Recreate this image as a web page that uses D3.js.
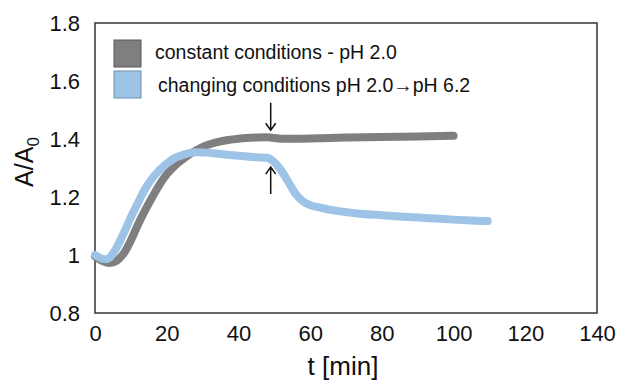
<!DOCTYPE html>
<html>
<head>
<meta charset="utf-8">
<script src="https://cdn.jsdelivr.net/npm/d3@7"></script>
<style>
  body { margin: 0; background: #fff; }
  svg { display: block; font-family: "Liberation Sans", Arial, sans-serif; }
</style>
</head>
<body>
<div id="chart"></div>
<script>
// time [min] and A/A0
const tConstant = [0, 2, 4, 6, 8, 10, 12, 14, 16, 18, 20, 22, 25, 28, 31, 35, 40, 45, 48, 52, 60, 70, 80, 90, 100];
const aConstant = [0.995, 0.98, 0.972, 0.98, 1.005, 1.05, 1.105, 1.155, 1.2, 1.243, 1.278, 1.305, 1.335, 1.36, 1.378, 1.392, 1.401, 1.405, 1.406, 1.401, 1.402, 1.405, 1.407, 1.409, 1.411];

const tChanging = [0, 1, 2, 3, 4, 6, 8, 10, 12, 14, 16, 18, 20, 22, 25, 28, 31, 35, 40, 45, 48, 50, 52, 54, 56, 58, 60, 63, 67, 72, 80, 86, 93, 100, 105, 109.5];
const aChanging = [1.0, 0.993, 0.987, 0.985, 0.99, 1.025, 1.075, 1.13, 1.18, 1.228, 1.265, 1.293, 1.315, 1.333, 1.347, 1.354, 1.353, 1.348, 1.342, 1.337, 1.335, 1.32, 1.29, 1.25, 1.21, 1.185, 1.172, 1.163, 1.153, 1.145, 1.137, 1.132, 1.127, 1.122, 1.119, 1.117];

const seriesNames = ["constant conditions - pH 2.0", "changing conditions pH 2.0\u2192pH 6.2"];
const seriesColors = ["#7f7f7f", "#9dc3e6"];

const xTicks = [0, 20, 40, 60, 80, 100, 120, 140];
const yTicks = [0.8, 1, 1.2, 1.4, 1.6, 1.8];

// arrows marking the pH switch: [t, from, to]
const arrows = [[49, 1.525, 1.43], [49, 1.21, 1.303]];

const W = 620, H = 380;
const margin = { top: 23, right: 23, bottom: 67, left: 95 };
const width = W - margin.left - margin.right;
const height = H - margin.top - margin.bottom;

const svg = d3.select("#chart").append("svg")
  .attr("width", W)
  .attr("height", H);

const g = svg.append("g")
  .attr("transform", `translate(${margin.left},${margin.top})`);

const x = d3.scaleLinear().domain([0, 140]).range([0, width]);
const y = d3.scaleLinear().domain([0.8, 1.8]).range([height, 0]);

// Axes (labels only, no tick marks)
const xAxis = g.append("g")
  .attr("transform", `translate(0,${height})`)
  .call(d3.axisBottom(x).tickValues(xTicks).tickSize(0).tickPadding(12).tickFormat(d3.format("d")));
xAxis.select(".domain").remove();
xAxis.selectAll("text").style("font-size", "22px").attr("fill", "#111");

const yAxis = g.append("g")
  .call(d3.axisLeft(y).tickValues(yTicks).tickSize(0).tickPadding(15).tickFormat(d => String(d)));
yAxis.select(".domain").remove();
yAxis.selectAll("text").style("font-size", "22px").attr("fill", "#111");

// Plot frame
g.append("rect")
  .attr("width", width)
  .attr("height", height)
  .attr("fill", "none")
  .attr("stroke", "#404040")
  .attr("stroke-width", 1.6);

// Curves
const line = d3.line()
  .x(d => x(d[0]))
  .y(d => y(d[1]))
  .curve(d3.curveMonotoneX);

const series = [
  d3.zip(tConstant, aConstant),
  d3.zip(tChanging, aChanging)
];

g.selectAll(".curve")
  .data(series)
  .enter().append("path")
  .attr("class", "curve")
  .attr("d", line)
  .attr("fill", "none")
  .attr("stroke", (d, i) => seriesColors[i])
  .attr("stroke-width", 8)
  .attr("stroke-linecap", "round")
  .attr("stroke-linejoin", "round");

// Arrows
arrows.forEach(([t, from, to]) => {
  const ax = x(t), y0 = y(from), y1 = y(to);
  const dir = y1 > y0 ? 1 : -1;
  g.append("path")
    .attr("d", `M${ax},${y0}L${ax},${y1}M${ax - 5},${y1 - dir * 7}L${ax},${y1}L${ax + 5},${y1 - dir * 7}`)
    .attr("fill", "none")
    .attr("stroke", "#111")
    .attr("stroke-width", 1.5);
});

// Legend
const legend = g.append("g").attr("transform", "translate(19,17)");
const legendBorder = ["#5a5a5a", "#6f8fb0"];
seriesNames.forEach((name, i) => {
  const row = legend.append("g").attr("transform", `translate(0,${i * 31})`);
  row.append("rect")
    .attr("width", 27)
    .attr("height", 27)
    .attr("fill", seriesColors[i])
    .attr("stroke", legendBorder[i])
    .attr("stroke-width", 1);
  row.append("text")
    .attr("x", 41 + i * 3)
    .attr("y", 19 + i * 2)
    .style("font-size", "19.5px")
    .attr("fill", "#111")
    .text(name);
});

// Axis titles
svg.append("text")
  .attr("x", 343)
  .attr("y", 375)
  .attr("text-anchor", "middle")
  .style("font-size", "26px")
  .attr("fill", "#111")
  .text("t [min]");

const yTitle = svg.append("text")
  .attr("transform", "translate(33,162) rotate(-90)")
  .attr("text-anchor", "middle")
  .style("font-size", "25px")
  .attr("fill", "#111");
yTitle.append("tspan").text("A/A");
yTitle.append("tspan").attr("dy", 6).style("font-size", "17px").text("0");
</script>
</body>
</html>
